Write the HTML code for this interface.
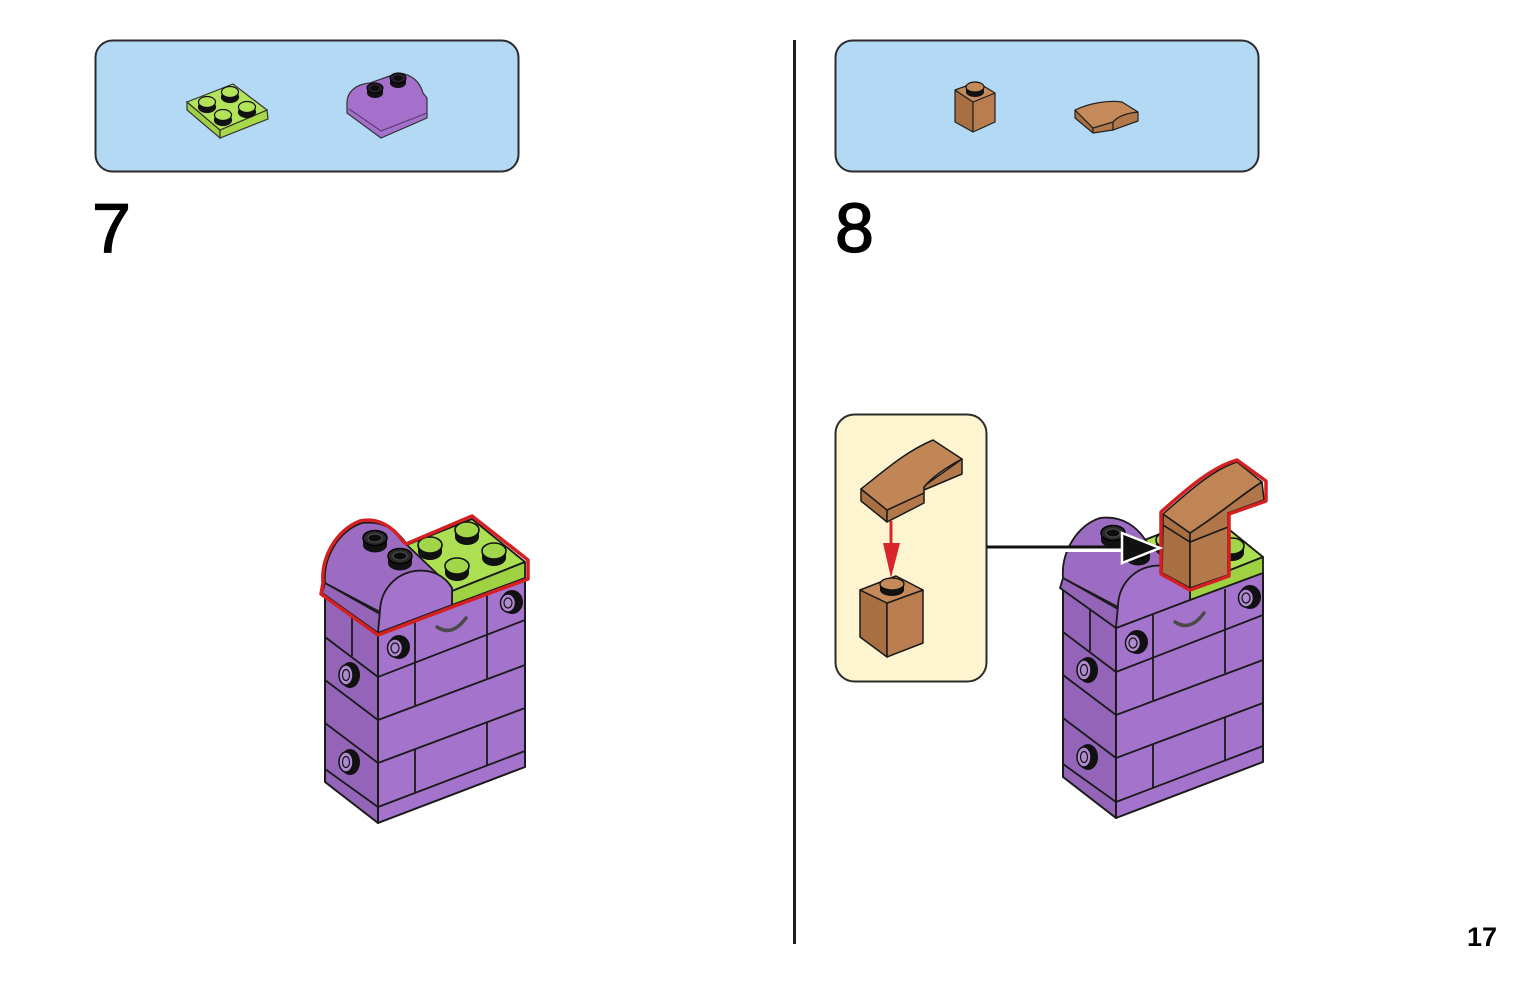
<!DOCTYPE html>
<html><head><meta charset="utf-8"><style>
html,body{margin:0;padding:0;background:#fff;}
svg{display:block;}
</style></head><body>
<svg width="1535" height="984" viewBox="0 0 1535 984" xmlns="http://www.w3.org/2000/svg">
<defs>
<g id="model">
  <!-- body left face -->
  <polygon points="325,590 378,633 378,823 325,782" fill="#9464b8" stroke="#1a1a1a" stroke-width="2" stroke-linejoin="round"/>
  <!-- body front face -->
  <polygon points="378,633 525,577 525,767 378,823" fill="#a473cb" stroke="#1a1a1a" stroke-width="2" stroke-linejoin="round"/>
  <g stroke="#1a1a1a" stroke-width="1.8" fill="none">
    <line x1="378" y1="677" x2="525" y2="620"/>
    <line x1="378" y1="720" x2="525" y2="665"/>
    <line x1="378" y1="763" x2="525" y2="708"/>
    <line x1="378" y1="807" x2="525" y2="751"/>
    <line x1="415" y1="620" x2="415" y2="705"/>
    <line x1="487" y1="594" x2="487" y2="678"/>
    <line x1="415" y1="749" x2="415" y2="793"/>
    <line x1="487" y1="722" x2="487" y2="765"/>
    <line x1="325" y1="637" x2="378" y2="677"/>
    <line x1="325" y1="680" x2="378" y2="720"/>
    <line x1="325" y1="723" x2="378" y2="763"/>
    <line x1="325" y1="769" x2="378" y2="807"/>
    <line x1="352" y1="614" x2="352" y2="656"/>
  </g>
  <g>
    <ellipse cx="350" cy="675" rx="10" ry="13" fill="#111"/>
    <ellipse cx="346" cy="675" rx="7" ry="10" fill="#b08ad0" stroke="#111" stroke-width="1.5"/>
    <ellipse cx="346" cy="675" rx="3.5" ry="5.5" fill="none" stroke="#111" stroke-width="1.2"/>
    <ellipse cx="350" cy="762" rx="10" ry="13" fill="#111"/>
    <ellipse cx="346" cy="762" rx="7" ry="10" fill="#b08ad0" stroke="#111" stroke-width="1.5"/>
    <ellipse cx="346" cy="762" rx="3.5" ry="5.5" fill="none" stroke="#111" stroke-width="1.2"/>
    <ellipse cx="399" cy="647" rx="11" ry="12" fill="#111"/>
    <ellipse cx="395" cy="648" rx="7.5" ry="9" fill="#b08ad0" stroke="#111" stroke-width="1.5"/>
    <ellipse cx="395" cy="648" rx="4" ry="5" fill="none" stroke="#111" stroke-width="1.2"/>
    <ellipse cx="512" cy="602" rx="11" ry="12" fill="#111"/>
    <ellipse cx="508" cy="603" rx="7.5" ry="9" fill="#b08ad0" stroke="#111" stroke-width="1.5"/>
    <ellipse cx="508" cy="603" rx="4" ry="5" fill="none" stroke="#111" stroke-width="1.2"/>
  </g>
  <path d="M437,627 Q452,637 466,618" fill="none" stroke="#4a4a4a" stroke-width="3.5" stroke-linecap="round"/>
  <polygon points="472,519 525,562 452,591 399,548" fill="#addf52" stroke="#1a1a1a" stroke-width="1.8" stroke-linejoin="round"/>
  <polygon points="452,591 525,562 525,578 452,605" fill="#9fd243" stroke="#1a1a1a" stroke-width="1.8" stroke-linejoin="round"/>
  <g stroke-width="1.6">
    <ellipse cx="467" cy="537" rx="12" ry="8" fill="#111"/><rect x="455" y="530" width="24" height="7" fill="#111"/><ellipse cx="467" cy="530" rx="12" ry="8" fill="#a2d64a" stroke="#111"/>
    <ellipse cx="430" cy="552" rx="12" ry="8" fill="#111"/><rect x="418" y="545" width="24" height="7" fill="#111"/><ellipse cx="430" cy="545" rx="12" ry="8" fill="#a2d64a" stroke="#111"/>
    <ellipse cx="494" cy="558" rx="12" ry="8" fill="#111"/><rect x="482" y="551" width="24" height="7" fill="#111"/><ellipse cx="494" cy="551" rx="12" ry="8" fill="#a2d64a" stroke="#111"/>
    <ellipse cx="457" cy="573" rx="12" ry="8" fill="#111"/><rect x="445" y="566" width="24" height="7" fill="#111"/><ellipse cx="457" cy="566" rx="12" ry="8" fill="#a2d64a" stroke="#111"/>
  </g>
  <path d="M325,583 C323,558 338,531 362,523 C385,520 400,533 408,546 L452,588 C445,576 432,569 415,571 C395,574 381,590 380,612 Z" fill="#9c6cc2" stroke="#1a1a1a" stroke-width="1.8" stroke-linejoin="round"/>
  <path d="M322,593 L325,583 L380,614 L378,633 Z" fill="#9464b8" stroke="#1a1a1a" stroke-width="1.8" stroke-linejoin="round"/>
  <path d="M378,633 L380,610 C381,590 395,574 415,571 C432,569 445,576 452,588 L452,605 Z" fill="#a473cb" stroke="#1a1a1a" stroke-width="1.8" stroke-linejoin="round"/>
  <g>
    <ellipse cx="375" cy="545" rx="12" ry="7.5" fill="#111"/><rect x="363" y="538" width="24" height="7" fill="#111"/><ellipse cx="375" cy="538" rx="12" ry="7.5" fill="#2a2a2a" stroke="#000" stroke-width="1.5"/><ellipse cx="375" cy="538" rx="7" ry="4" fill="#0d0d0d" stroke="#555" stroke-width="1"/>
    <ellipse cx="400" cy="563" rx="12" ry="7.5" fill="#111"/><rect x="388" y="556" width="24" height="7" fill="#111"/><ellipse cx="400" cy="556" rx="12" ry="7.5" fill="#2a2a2a" stroke="#000" stroke-width="1.5"/><ellipse cx="400" cy="556" rx="7" ry="4" fill="#0d0d0d" stroke="#555" stroke-width="1"/>
  </g>
</g>
</defs>

<!-- Parts box 7 -->
<rect x="95.5" y="40.5" width="423" height="131" rx="17" fill="#b4d9f5" stroke="#2b2b2b" stroke-width="2"/>
<polygon points="187,102 220,130 220,138 187,110" fill="#9fd043" stroke="#333" stroke-width="1.2"/>
<polygon points="220,130 267,110 268,119 220,138" fill="#a6d84a" stroke="#333" stroke-width="1.2"/>
<polygon points="187,102 233,84 267,110 220,130" fill="#b2e35a" stroke="#333" stroke-width="1.2"/>
<g stroke="#111" stroke-width="1.2">
  <ellipse cx="230" cy="97" rx="8.5" ry="5.5" fill="#111"/><rect x="221.5" y="92" width="17" height="5" fill="#111" stroke="none"/><ellipse cx="230" cy="92" rx="8.5" ry="5.5" fill="#b2e35a"/>
  <ellipse cx="207" cy="107" rx="8.5" ry="5.5" fill="#111"/><rect x="198.5" y="102" width="17" height="5" fill="#111" stroke="none"/><ellipse cx="207" cy="102" rx="8.5" ry="5.5" fill="#b2e35a"/>
  <ellipse cx="247" cy="112" rx="8.5" ry="5.5" fill="#111"/><rect x="238.5" y="107" width="17" height="5" fill="#111" stroke="none"/><ellipse cx="247" cy="107" rx="8.5" ry="5.5" fill="#b2e35a"/>
  <ellipse cx="223" cy="120" rx="8.5" ry="5.5" fill="#111"/><rect x="214.5" y="115" width="17" height="5" fill="#111" stroke="none"/><ellipse cx="223" cy="115" rx="8.5" ry="5.5" fill="#b2e35a"/>
</g>
<path d="M347,113 L347,105 C346,92 356,84 370,83 L398,73 C412,74 420,82 423,93 L427,98 L427,118 L381,138 Z" fill="#a470cc" stroke="#333" stroke-width="1.2" stroke-linejoin="round"/>
<path d="M349,109 L381,131 L427,113" fill="none" stroke="#5a3d75" stroke-width="1.2"/>
<g>
  <ellipse cx="375" cy="93" rx="8" ry="5" fill="#111"/><rect x="367" y="88" width="16" height="5" fill="#111"/><ellipse cx="375" cy="88" rx="8" ry="5" fill="#2a2030" stroke="#000" stroke-width="1"/><ellipse cx="375" cy="88" rx="4.5" ry="2.6" fill="#0d0d0d"/>
  <ellipse cx="398" cy="83" rx="8" ry="5" fill="#111"/><rect x="390" y="78" width="16" height="5" fill="#111"/><ellipse cx="398" cy="78" rx="8" ry="5" fill="#2a2030" stroke="#000" stroke-width="1"/><ellipse cx="398" cy="78" rx="4.5" ry="2.6" fill="#0d0d0d"/>
</g>

<!-- Parts box 8 -->
<rect x="835.5" y="40.5" width="423" height="131" rx="17" fill="#b4d9f5" stroke="#2b2b2b" stroke-width="2"/>
<polygon points="955,90 973,102 973,132 955,122" fill="#a86f43" stroke="#222" stroke-width="1.2" stroke-linejoin="round"/>
<polygon points="973,102 995,93 995,122 973,132" fill="#b97d4f" stroke="#222" stroke-width="1.2" stroke-linejoin="round"/>
<polygon points="955,90 977,82 995,93 973,102" fill="#c48a5a" stroke="#222" stroke-width="1.2" stroke-linejoin="round"/>
<ellipse cx="975" cy="92" rx="9" ry="5" fill="#111"/><rect x="966" y="87" width="18" height="5" fill="#111"/><ellipse cx="975" cy="87" rx="9" ry="5" fill="#c48a5a" stroke="#111" stroke-width="1.2"/>
<path d="M1075,110 L1093,128 L1093,133 L1075,118 Z" fill="#a86f43" stroke="#222" stroke-width="1.2" stroke-linejoin="round"/>
<path d="M1093,128 L1113,122 L1113,130 L1093,133 Z" fill="#b37849" stroke="#222" stroke-width="1.2" stroke-linejoin="round"/>
<path d="M1113,122 C1118,116 1128,113 1138,112 L1138,121 L1113,130 Z" fill="#b37849" stroke="#222" stroke-width="1.2" stroke-linejoin="round"/>
<path d="M1075,110 C1090,103 1108,100 1122,102 L1138,112 C1128,113 1118,116 1113,122 L1093,128 Z" fill="#c48a5a" stroke="#222" stroke-width="1.2" stroke-linejoin="round"/>

<!-- Step numbers -->
<text x="92" y="252" font-family="Liberation Sans, sans-serif" font-size="70" fill="#000" stroke="#000" stroke-width="1.3">7</text>
<text x="835" y="252" font-family="Liberation Sans, sans-serif" font-size="70" fill="#000" stroke="#000" stroke-width="1.3">8</text>

<!-- divider -->
<rect x="793" y="40" width="3" height="904" fill="#1e1e1e"/>

<!-- Left model -->
<use href="#model"/>
<path d="M321,594 L323,583 C321,556 337,530 360,521 C378,517 393,527 402,540 L406,544 L472,516 L528,560 L528,579 L452,607 L378,635 Z" fill="none" stroke="#d42020" stroke-width="3.5" stroke-linejoin="round"/>

<!-- Right model -->
<use href="#model" transform="translate(738,-5)"/>
<path d="M1163,525 L1190,542 L1190,588 L1162,573 Z" fill="#a86f43" stroke="#1a1a1a" stroke-width="1.6" stroke-linejoin="round"/>
<path d="M1190,542 L1228,527 L1228,575 L1190,588 Z" fill="#b57a4b" stroke="#1a1a1a" stroke-width="1.6" stroke-linejoin="round"/>
<path d="M1163,514 L1190,533 L1190,542 L1163,525 Z" fill="#a86f43" stroke="#1a1a1a" stroke-width="1.6" stroke-linejoin="round"/>
<path d="M1190,533 C1228,508 1245,492 1262,482 L1264,500 L1228,513 L1228,527 L1190,542 Z" fill="#b07548" stroke="#1a1a1a" stroke-width="1.6" stroke-linejoin="round"/>
<path d="M1163,514 C1188,492 1212,470 1237,462 L1262,482 C1245,492 1228,508 1190,533 Z" fill="#bf8555" stroke="#1a1a1a" stroke-width="1.6" stroke-linejoin="round"/>
<path d="M1161,512 C1188,488 1212,467 1237,460 L1266,481 L1266,501 L1229,514 L1229,576 L1190,590 L1161,574 Z" fill="none" stroke="#d42020" stroke-width="3.5" stroke-linejoin="round"/>

<!-- Inset callout -->
<rect x="835.5" y="414.5" width="151" height="267" rx="19" fill="#fdf5cf" stroke="#2b2b2b" stroke-width="2"/>
<path d="M861,489 L887,510 L887,522 L861,501 Z" fill="#a86f43" stroke="#1a1a1a" stroke-width="1.5" stroke-linejoin="round"/>
<path d="M887,510 L924,493 L924,503 L887,522 Z" fill="#b37849" stroke="#1a1a1a" stroke-width="1.5" stroke-linejoin="round"/>
<path d="M924,486 L962,459 L962,474 L924,490 Z" fill="#b37849" stroke="#1a1a1a" stroke-width="1.5" stroke-linejoin="round"/>
<path d="M861,489 C885,470 905,452 933,440 L962,459 C945,468 932,477 924,487 L924,493 L887,510 Z" fill="#c08656" stroke="#1a1a1a" stroke-width="1.5" stroke-linejoin="round"/>
<polygon points="860,590 887,603 887,657 860,637" fill="#a86f43" stroke="#1a1a1a" stroke-width="1.5" stroke-linejoin="round"/>
<polygon points="887,603 923,590 923,643 887,657" fill="#b97d4f" stroke="#1a1a1a" stroke-width="1.5" stroke-linejoin="round"/>
<polygon points="860,590 896,576 923,590 887,603" fill="#c48a5a" stroke="#1a1a1a" stroke-width="1.5" stroke-linejoin="round"/>
<ellipse cx="892" cy="590" rx="12" ry="6" fill="#111"/><rect x="880" y="584" width="24" height="6" fill="#111"/><ellipse cx="892" cy="584" rx="12" ry="6" fill="#c48a5a" stroke="#111" stroke-width="1.3"/>
<line x1="891" y1="521" x2="891" y2="548" stroke="#d8262b" stroke-width="3"/>
<polygon points="883,543 900,543 891,578" fill="#d8262b"/>

<!-- connector arrow -->
<line x1="1062" y1="550" x2="1125" y2="550" stroke="#fff" stroke-width="4"/>
<line x1="987" y1="547" x2="1126" y2="547" stroke="#111" stroke-width="3"/>
<polygon points="1122,533 1160,548 1122,563" fill="#111" stroke="#fff" stroke-width="2.5" stroke-linejoin="miter"/>

<!-- page number -->
<text x="1497" y="946" text-anchor="end" font-family="Liberation Sans, sans-serif" font-weight="bold" font-size="27" fill="#000">17</text>
</svg>
</body></html>
